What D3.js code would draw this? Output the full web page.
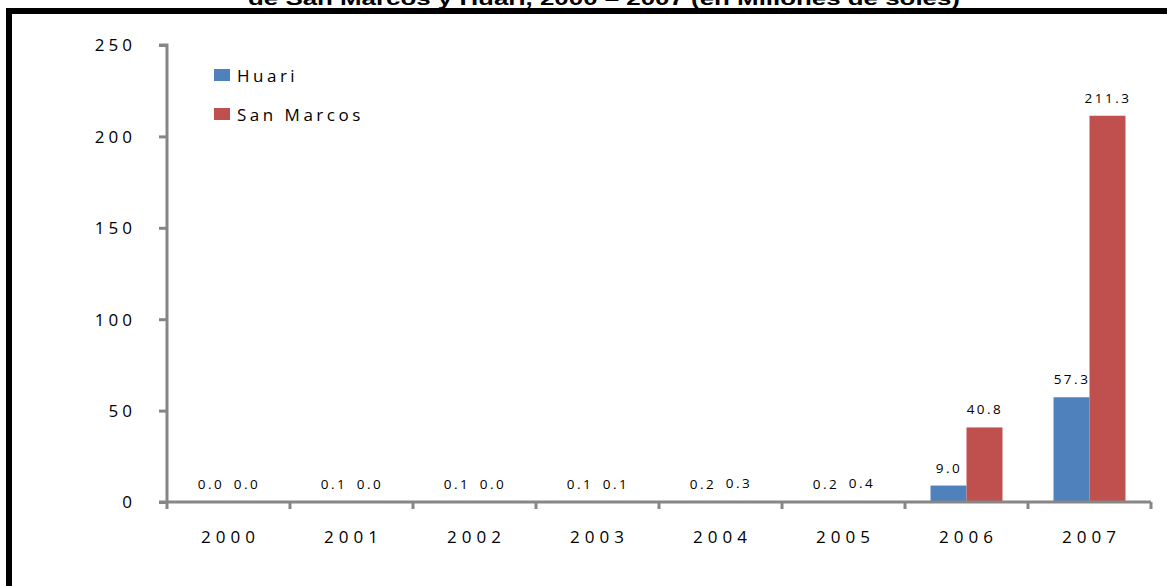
<!DOCTYPE html>
<html><head><meta charset="utf-8">
<script src="https://cdn.jsdelivr.net/npm/d3@7/dist/d3.min.js"></script>
<style>
html,body{margin:0;padding:0;background:#fff;}
svg{display:block;}
</style></head>
<body>
<svg id="chart" width="1167" height="586"></svg>
<script>
const years = ["2000","2001","2002","2003","2004","2005","2006","2007"];
const seriesNames = ["Huari","San Marcos"];
const huari = [0.0, 0.1, 0.1, 0.1, 0.2, 0.2, 9.0, 57.3];
const sanMarcos = [0.0, 0.0, 0.0, 0.1, 0.3, 0.4, 40.8, 211.3];
const yTicks = [0, 50, 100, 150, 200, 250];
const titleText = "de San Marcos y Huari, 2000 \u2013 2007 (en Millones de soles)";
const colors = ["#4F81BD", "#C0504D"];

(function(){
const svg = d3.select("#chart");
const left = 167, right = 1151, bottom = 502, topY = 45;
const axisColor = "#868686";
const font = "'Open Sans', 'DejaVu Sans', sans-serif";

// Title (cut off at top, as in the reference)
svg.append("text")
  .attr("x", 604).attr("y", 5)
  .attr("text-anchor", "middle")
  .attr("font-family", "'Liberation Sans', Arial, sans-serif")
  .attr("font-weight", "bold")
  .attr("font-size", 19)
  .attr("textLength", 712)
  .attr("lengthAdjust", "spacingAndGlyphs")
  .text(titleText);

// Black frame (left and top only)
svg.append("path")
  .attr("d", "M9,600 L9,11 L1180,11")
  .attr("fill", "none").attr("stroke", "#000").attr("stroke-width", 6);

const y = d3.scaleLinear().domain([0, 250]).range([bottom, topY]);
const x0 = d3.scaleBand().domain(years).range([left, right]).paddingInner(0.415).paddingOuter(0.2075);
const x1 = d3.scaleBand().domain(seriesNames).range([0, x0.bandwidth()]);
const step = x0.step();

const data = years.map((yr, i) => ({year: yr, values: [huari[i], sanMarcos[i]]}));

// Bars
const g = svg.append("g");
data.forEach(d => {
  d.values.forEach((v, si) => {
    g.append("rect")
      .attr("x", x0(d.year) + x1(seriesNames[si]))
      .attr("y", y(v))
      .attr("width", x1.bandwidth())
      .attr("height", bottom - y(v))
      .attr("fill", colors[si]);
  });
});

// Data labels
data.forEach(d => {
  d.values.forEach((v, si) => {
    g.append("text")
      .attr("x", x0(d.year) + x1(seriesNames[si]) + x1.bandwidth()/2 + 0.5)
      .attr("y", y(v) - 13)
      .attr("text-anchor", "middle")
      .attr("font-family", font)
      .attr("font-size", 13.5)
      .attr("letter-spacing", 2.5)
      .attr("fill", "#000")
      .text(v.toFixed(1));
  });
});

// Y axis
const yAxis = d3.axisLeft(y).tickValues(yTicks).tickSize(8).tickPadding(23).tickFormat(d3.format("d"));
const ya = svg.append("g").attr("transform", `translate(${left},0)`).call(yAxis);
ya.select(".domain").attr("stroke", axisColor).attr("stroke-width", 3).attr("d", `M-8,${topY}H0V${bottom}`);
ya.selectAll(".tick line").attr("stroke", axisColor).attr("stroke-width", 3);
ya.selectAll(".tick text")
  .attr("font-family", font).attr("font-size", 17).attr("letter-spacing", 4)
  .attr("fill", "#000").attr("dy", "0.35em");

// X axis
const xa = svg.append("g");
xa.append("line").attr("x1", left - 8).attr("x2", right).attr("y1", bottom).attr("y2", bottom)
  .attr("stroke", axisColor).attr("stroke-width", 3);
const boundaries = years.map(yr => x0(yr) - (step - x0.bandwidth())/2).concat([right]);
xa.selectAll("line.xt").data(boundaries).join("line").attr("class","xt")
  .attr("x1", d => d).attr("x2", d => d).attr("y1", bottom).attr("y2", bottom + 7)
  .attr("stroke", axisColor).attr("stroke-width", 3);
xa.selectAll("text").data(years).join("text")
  .attr("x", d => x0(d) + x0.bandwidth()/2 + 2)
  .attr("y", 543)
  .attr("text-anchor", "middle")
  .attr("font-family", font).attr("font-size", 17).attr("letter-spacing", 5)
  .attr("fill", "#000")
  .text(d => d);

// Legend
const lg = svg.append("g");
seriesNames.forEach((s, i) => {
  lg.append("rect").attr("x", 214).attr("y", 69 + i*39).attr("width", 16).attr("height", 12).attr("fill", colors[i]);
  lg.append("text").attr("x", 237).attr("y", 82 + i*39)
    .attr("font-family", font).attr("font-size", 17).attr("letter-spacing", 3.5)
    .attr("fill", "#000").text(s);
});
})();
</script>
</body></html>
